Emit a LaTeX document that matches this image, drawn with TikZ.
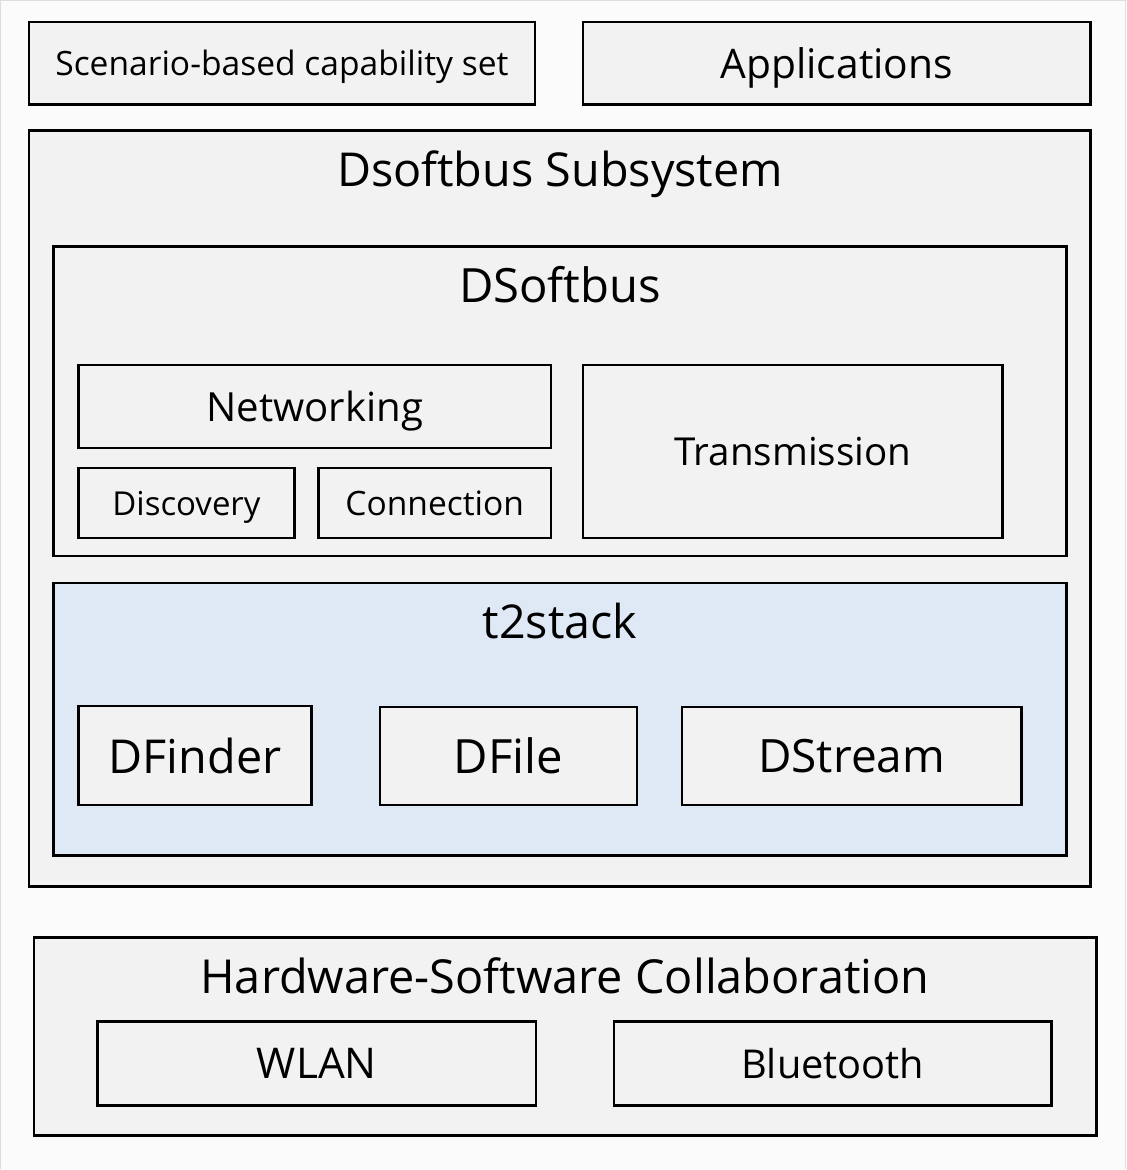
\documentclass[tikz,border=0pt]{standalone}
\usepackage{fontspec}
\setmainfont{Open Sans}
\definecolor{boxgray}{HTML}{F2F2F2}
\definecolor{stackblue}{HTML}{DFE9F5}
\definecolor{pagebg}{HTML}{FBFBFB}
\definecolor{framegray}{HTML}{DDDDDD}
\newcommand{\fsz}[1]{\fontsize{#1}{#1}\selectfont}
\tikzset{
  box/.style={draw=black, fill=boxgray, line width=2.4pt, inner sep=0pt, text depth=0pt},
  title/.style={inner sep=0pt, anchor=center, text depth=0pt}
}
\begin{document}
\begin{tikzpicture}[x=1pt, y=-1pt]
  \fill[pagebg] (0,0) rectangle (1126,1170);
  \draw[framegray, line width=1.5pt] (0,1170) -- (0,0) -- (1126,0) -- (1126,1170);
  \useasboundingbox (0,0) rectangle (1126,1170);

  % top row
  \node[box, minimum width=507pt, minimum height=83pt, font=\fsz{33.6}] (scen) at (281.5, 62.5) {Scenario-based capability set};
  \node[box, minimum width=508pt, minimum height=83pt, font=\fsz{40.8}] (apps) at (837, 62.5) {Applications};

  % subsystem
  \node[box, minimum width=1063pt, minimum height=757pt] (subsys) at (559.5, 508.5) {};
  \node[title, font=\fsz{46.8}] (subsystitle) at (560, 168) {Dsoftbus Subsystem};

  % dsoftbus
  \node[box, minimum width=1014pt, minimum height=310pt] (dsb) at (560, 401) {};
  \node[title, font=\fsz{47.3}] (dsbtitle) at (560, 284) {DSoftbus};
  \node[box, minimum width=473pt, minimum height=83pt, font=\fsz{40.2}] (net) at (314.5, 406.5) {Networking};
  \node[box, minimum width=216pt, minimum height=70pt, font=\fsz{33}] (disc) at (186, 503) {Discovery};
  \node[box, minimum width=233pt, minimum height=70pt, font=\fsz{33.6}] (conn) at (434.5, 503) {Connection};
  \node[box, minimum width=420pt, minimum height=173pt, font=\fsz{38.6}] (trans) at (793, 451.5) {Transmission};

  % t2stack
  \node[box, fill=stackblue, minimum width=1014pt, minimum height=273pt] (stack) at (560, 719.5) {};
  \node[title, font=\fsz{46.7}] (stacktitle) at (560, 621) {t2stack};
  \node[box, minimum width=233pt, minimum height=99pt, font=\fsz{46.8}] (finder) at (194.5, 755.5) {DFinder};
  \node[box, minimum width=257pt, minimum height=98pt, font=\fsz{47.3}] (file) at (508.5, 756) {DFile};
  \node[box, minimum width=340pt, minimum height=98pt, font=\fsz{46}] (stream) at (852, 756) {DStream};

  % hardware
  \node[box, minimum width=1064pt, minimum height=198pt] (hw) at (565, 1037) {};
  \node[title, font=\fsz{46.9}] (hwtitle) at (565, 976) {Hardware-Software Collaboration};
  \node[box, minimum width=439pt, minimum height=84pt, font=\fsz{42.4}] (wlan) at (316.5, 1064) {WLAN};
  \node[box, minimum width=438pt, minimum height=84pt, font=\fsz{39.8}] (bt) at (833, 1064) {Bluetooth};
\end{tikzpicture}
\end{document}
